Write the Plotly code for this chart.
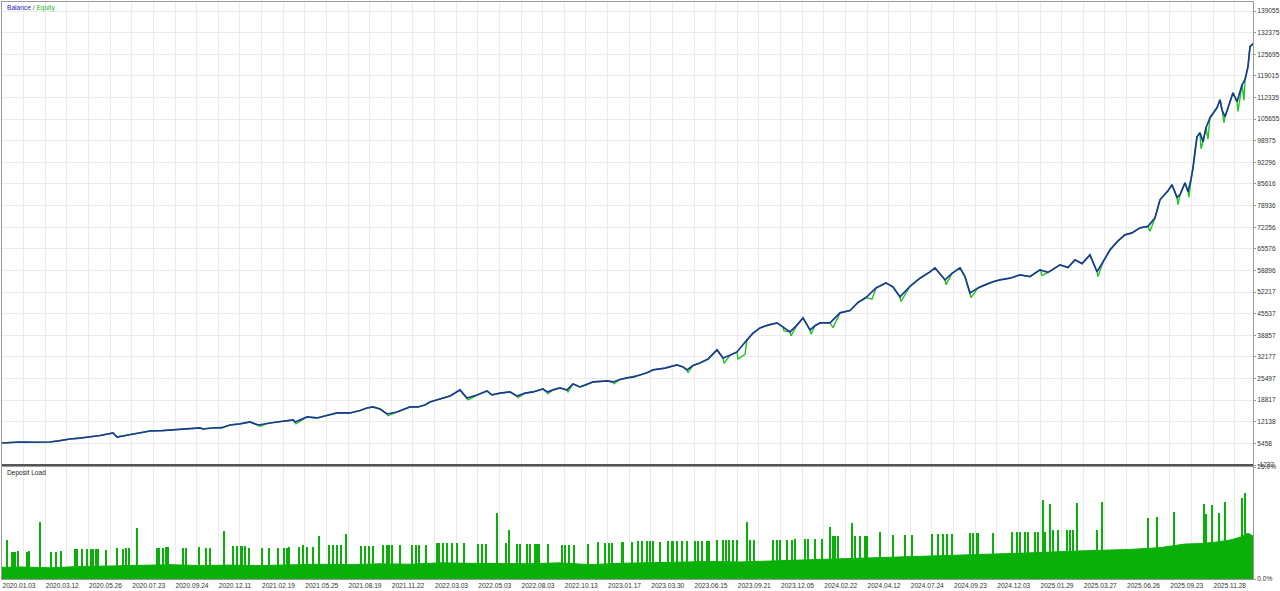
"""Balance / equity curve with deposit load panel (MT5 tester style)."""

import plotly.graph_objects as go

# ---------------------------------------------------------------------------
# Data
# ---------------------------------------------------------------------------

# deal number along the x axis and the balance at that deal
balance_x = [
    2, 12, 20, 35, 50, 60, 70, 80, 90, 100, 113, 117, 128, 140, 150, 162, 173,
    188, 200, 203, 212, 222, 230, 240, 250, 258, 268, 277, 286, 293, 295, 307,
    317, 327, 337, 350, 360, 367, 373, 380, 387, 397, 410, 418, 425, 430, 440,
    450, 460, 467, 477, 487, 492, 500, 510, 517, 525, 533, 543, 547, 553, 560,
    567, 573, 580, 586, 593, 600, 607, 613, 620, 627, 634, 640, 647, 653, 665,
    677, 683, 687, 693, 700, 708, 717, 723, 730, 737, 747, 753, 760, 768, 777,
    783, 790, 797, 803, 810, 815, 820, 830, 840, 850, 858, 866, 876, 886, 893,
    900, 910, 920, 930, 935, 945, 952, 960, 965, 970, 978, 985, 993, 1000,
    1010, 1020, 1030, 1040, 1048, 1060, 1068, 1075, 1082, 1090, 1097, 1103,
    1110, 1118, 1125, 1132, 1140, 1148, 1155, 1160, 1168, 1172, 1177, 1180,
    1185, 1188, 1191, 1193, 1195, 1197, 1200, 1203, 1206, 1210, 1217, 1220,
    1222, 1225, 1230, 1233, 1237, 1242, 1245, 1248, 1250, 1253,
]
balance_y = [
    5580, 5700, 5890, 5800, 5890, 6300, 6817, 7100, 7436, 7900, 8672, 7436,
    8050, 8672, 9291, 9400, 9600, 9900, 10218, 9909, 10218, 10300, 11146,
    11500, 12074, 11146, 11700, 12074, 12400, 12692, 12074, 13620, 13310,
    14100, 14856, 14856, 15600, 16402, 16712, 16093, 14547, 15166, 16712,
    16712, 17330, 18258, 19185, 20100, 21968, 19494, 20400, 21658, 20422,
    21000, 21350, 20113, 21000, 21350, 22277, 21350, 22000, 22586, 21968,
    23823, 22895, 23500, 24442, 24600, 24751, 24442, 25200, 25678, 26000,
    26606, 27300, 28152, 28700, 29698, 29080, 28152, 29500, 30316, 31500,
    34336, 31862, 32700, 33717, 37428, 39500, 41138, 42000, 42684, 41447,
    39901, 42000, 44230, 40520, 41800, 42684, 42684, 45776, 46500, 49000,
    50500, 53500, 55052, 53800, 50723, 54000, 56500, 58453, 59690, 55980,
    58000, 59690, 57000, 51960, 53500, 54434, 55400, 55980, 56500, 57526,
    57000, 59072, 58300, 60618, 59800, 62164, 61000, 63710, 58500, 61500,
    65256, 68000, 69894, 70500, 72058, 72500, 75150, 80716, 83500, 85354,
    81500, 82262, 85973, 83190, 87000, 90610, 96176, 100196, 101434, 98651,
    102978, 106070, 109162, 111636, 108544, 106380, 111017, 113800, 111017,
    116274, 117820, 121840, 128024, 128951,
]

# floating drawdowns where equity falls below balance
equity_dip_x = [
    260, 296, 388, 468, 518, 548, 568, 614, 688, 724, 738, 745, 784, 791, 811,
    833, 872, 901, 946, 971, 1042, 1098, 1150, 1178, 1189, 1201, 1208, 1224,
    1238, 1244,
]
equity_dip_y = [
    10700, 11500, 14000, 18900, 19600, 20800, 21400, 23900, 27300, 30200,
    31500, 33000, 40200, 38700, 39200, 41200, 50000, 49300, 54500, 50500,
    57300, 57000, 71000, 79200, 81500, 96500, 99500, 104500, 108000, 111500,
]

# deposit load, base level (%)
load_x = [
    2, 20, 50, 80, 110, 140, 170, 200, 230, 260, 290, 320, 350, 380, 410, 440,
    470, 500, 530, 560, 590, 620, 650, 680, 710, 740, 770, 800, 830, 860, 890,
    920, 950, 980, 1010, 1040, 1070, 1100, 1130, 1160, 1185, 1200, 1215, 1230,
    1240, 1248, 1253,
]
load_y = [
    2.6, 2.7, 2.5, 2.8, 2.9, 3.0, 3.2, 3.0, 3.1, 3.0, 3.2, 3.3, 3.2, 3.4, 3.3,
    3.6, 3.5, 3.5, 3.4, 3.6, 3.2, 3.5, 3.6, 3.8, 3.9, 3.8, 4.0, 4.2, 4.4, 4.6,
    4.8, 5.0, 5.3, 5.5, 5.7, 5.9, 6.2, 6.4, 6.6, 7.0, 7.8, 7.9, 8.2, 8.7, 9.3,
    10.2, 9.6,
]

# deposit load spikes (deal number, %)
spike_x = [
    7, 12, 13, 15, 18, 27, 29, 40, 51, 56, 61, 75, 77, 82, 87, 91, 93, 96, 98,
    106, 117, 123, 126, 129, 137, 157, 159, 163, 166, 168, 183, 186, 199, 206,
    210, 224, 233, 237, 241, 242, 245, 249, 262, 269, 278, 284, 287, 289, 299,
    303, 307, 313, 319, 329, 333, 337, 341, 346, 361, 365, 369, 373, 383, 387,
    389, 392, 400, 412, 416, 419, 426, 437, 439, 443, 447, 452, 457, 464, 478,
    482, 486, 497, 506, 509, 517, 520, 527, 530, 535, 537, 539, 548, 562, 565,
    569, 574, 588, 598, 605, 609, 612, 622, 623, 632, 638, 642, 647, 650, 653,
    660, 668, 672, 673, 677, 682, 687, 695, 698, 702, 707, 709, 717, 723, 726,
    729, 733, 737, 747, 750, 754, 773, 777, 780, 787, 792, 795, 805, 808, 815,
    822, 830, 833, 835, 838, 852, 855, 860, 865, 867, 880, 893, 905, 912, 932,
    938, 943, 947, 952, 970, 973, 977, 978, 993, 1012, 1017, 1020, 1025, 1028,
    1035, 1038, 1043, 1045, 1050, 1053, 1058, 1067, 1070, 1073, 1077, 1097,
    1102, 1148, 1157, 1174, 1204, 1206, 1212, 1219, 1225, 1242, 1245,
]
spike_h = [
    8.7, 6.0, 6.0, 6.0, 6.2, 6.0, 6.2, 12.7, 6.0, 6.0, 6.2, 6.8, 6.8, 6.8, 6.8,
    6.8, 6.8, 6.7, 6.7, 6.5, 6.9, 6.6, 6.9, 6.9, 11.4, 7.0, 7.0, 7.0, 7.1, 7.1,
    6.9, 6.9, 7.2, 6.9, 6.9, 10.7, 7.3, 7.3, 7.3, 7.3, 7.3, 7.0, 7.0, 7.0, 7.0,
    7.0, 7.0, 7.2, 7.2, 7.5, 7.2, 7.2, 9.5, 7.5, 7.5, 7.5, 7.5, 10.0, 7.4, 7.4,
    7.4, 7.4, 7.6, 7.6, 7.6, 7.6, 7.5, 7.5, 7.6, 7.6, 7.5, 8.0, 8.0, 8.0, 8.0,
    8.0, 8.0, 8.0, 7.9, 7.9, 7.9, 14.7, 8.0, 11.0, 7.8, 7.8, 7.8, 7.8, 7.8, 7.8,
    7.8, 7.8, 7.6, 7.6, 7.6, 7.6, 7.9, 8.2, 8.0, 8.0, 8.0, 8.2, 8.2, 8.2, 8.5,
    8.4, 8.4, 8.4, 8.4, 8.3, 8.5, 8.5, 8.5, 8.5, 8.5, 8.4, 8.5, 8.5, 8.5, 8.5,
    8.5, 8.8, 8.8, 8.8, 8.8, 8.8, 8.8, 12.7, 8.8, 8.8, 8.8, 8.8, 8.8, 8.8, 8.8,
    9.0, 9.0, 9.0, 9.0, 9.0, 11.6, 9.5, 9.5, 9.5, 12.5, 9.5, 9.5, 9.5, 9.5,
    10.5, 9.8, 9.8, 9.8, 10.0, 10.0, 10.0, 10.0, 10.0, 10.2, 10.2, 10.2, 10.2,
    10.3, 10.5, 10.5, 10.5, 10.5, 10.5, 10.5, 10.5, 17.6, 10.5, 16.8, 11.0,
    11.0, 11.0, 11.0, 11.0, 17.0, 11.0, 17.2, 13.6, 13.8, 15.0, 16.7, 14.5,
    16.5, 14.8, 17.2, 18.0, 19.2,
]

# axis labels
date_labels = [
    "2020.01.03", "2020.03.12", "2020.05.26", "2020.07.23", "2020.09.24",
    "2020.12.11", "2021.02.19", "2021.05.25", "2021.08.19", "2021.11.22",
    "2022.03.03", "2022.05.03", "2022.08.03", "2022.10.13", "2023.01.17",
    "2023.03.30", "2023.06.15", "2023.09.21", "2023.12.05", "2024.02.22",
    "2024.04.12", "2024.07.24", "2024.09.23", "2024.12.03", "2025.01.29",
    "2025.03.27", "2025.06.26", "2025.09.23", "2025.11.28",
]
balance_ticks = [
    -1222, 5458, 12138, 18817, 25497, 32177, 38857, 45537, 52217, 58896,
    65576, 72256, 78936, 85616, 92296, 98975, 105655, 112335, 119015, 125695,
    132375, 139055,
]

# ---------------------------------------------------------------------------
# Figure
# ---------------------------------------------------------------------------

FONT = "Liberation Sans, Arial, sans-serif"
GRID = "#ebebeb"
BORDER = "#9a9a9a"
BAL_COLOUR = "#1b3a96"
EQ_COLOUR = "#22c422"
LOAD_COLOUR = "#0aaf0a"

X0, X1 = 2, 1253
LABEL_STEP = 43.25
grid_vals = []
grid_text = []
k = 0
while X0 + k * LABEL_STEP / 2 <= X1:
    grid_vals.append(X0 + k * LABEL_STEP / 2)
    grid_text.append(date_labels[k // 2] if k % 2 == 0 else "")
    k += 1

# equity follows balance, with the dips merged in
eq_pts = sorted(zip(balance_x + equity_dip_x, balance_y + equity_dip_y))
equity_x = [p[0] for p in eq_pts]
equity_y = [p[1] for p in eq_pts]

fig = go.Figure()

fig.add_trace(go.Scatter(
    x=equity_x, y=equity_y, mode="lines",
    line=dict(color=EQ_COLOUR, width=1.4), xaxis="x2", yaxis="y2",
    hoverinfo="skip",
))
fig.add_trace(go.Scatter(
    x=balance_x, y=balance_y, mode="lines",
    line=dict(color=BAL_COLOUR, width=1.7), xaxis="x2", yaxis="y2",
))

fig.add_trace(go.Scatter(
    x=load_x, y=load_y, mode="lines", fill="tozeroy",
    line=dict(color=LOAD_COLOUR, width=1), fillcolor=LOAD_COLOUR,
))
fig.add_trace(go.Bar(
    x=spike_x, y=spike_h, width=0.7,
    marker=dict(color=LOAD_COLOUR, line=dict(width=0)),
))

split_bottom = (591 - 12 - 465) / (591 - 2 - 12)
split_top = (591 - 12 - 467) / (591 - 2 - 12)

fig.update_layout(
    width=1280, height=591,
    margin=dict(l=2, r=27, t=2, b=12, autoexpand=False),
    paper_bgcolor="white", plot_bgcolor="white",
    showlegend=False, bargap=0,
    font=dict(family=FONT, size=7, color="#333333"),
    xaxis=dict(
        domain=[0, 1], range=[X0, X1], anchor="y", automargin=False,
        tickmode="array", tickvals=grid_vals, ticktext=grid_text,
        ticklabelposition="outside right", ticks="", tickangle=0,
        tickfont=dict(size=6.6),
        showgrid=True, gridcolor=GRID, gridwidth=1,
        showline=True, mirror=True, linecolor=BORDER, linewidth=1,
        zeroline=False,
    ),
    yaxis=dict(
        domain=[0, split_top], range=[0, 25], side="right", automargin=False,
        tickmode="array", tickvals=[0, 25], ticktext=["0.0%", "25.0%"],
        ticks="outside", ticklen=2, tickcolor=BORDER,
        tickfont=dict(size=6.6),
        showgrid=False, zeroline=False,
        showline=True, mirror=True, linecolor=BORDER, linewidth=1,
    ),
    xaxis2=dict(
        domain=[0, 1], range=[X0, X1], anchor="y2", matches="x",
        automargin=False,
        tickmode="array", tickvals=grid_vals, showticklabels=False, ticks="",
        showgrid=True, gridcolor=GRID, gridwidth=1,
        showline=True, mirror=True, linecolor=BORDER, linewidth=1,
        zeroline=False,
    ),
    yaxis2=dict(
        domain=[split_bottom, 1], range=[-1222, 141836], side="right",
        automargin=False,
        tickmode="array", tickvals=balance_ticks,
        ticktext=[str(v) for v in balance_ticks],
        ticks="outside", ticklen=2, tickcolor=BORDER,
        tickfont=dict(size=6.6),
        showgrid=True, gridcolor=GRID, gridwidth=1, zeroline=False,
        showline=True, mirror=True, linecolor=BORDER, linewidth=1,
    ),
    annotations=[
        dict(
            xref="paper", yref="paper", x=0.002, y=1, xanchor="left",
            yanchor="top", showarrow=False,
            text=("<span style='color:#2424b8'>Balance</span> "
                  "<span style='color:#555555'>/</span> "
                  "<span style='color:#22b522'>Equity</span>"),
            font=dict(size=6.6),
        ),
        dict(
            xref="paper", yref="paper", x=0.002, y=split_top, xanchor="left",
            yanchor="top", showarrow=False, text="Deposit Load",
            font=dict(size=6.6, color="#222222"),
        ),
    ],
    shapes=[
        dict(type="line", xref="paper", yref="paper", x0=0, x1=1,
             y0=split_bottom, y1=split_bottom,
             line=dict(color="#555555", width=2)),
    ],
)

# drop the browser's default body margin so the figure fills the window
fig.write_html(
    "out.html",
    config={"displayModeBar": False},
    post_script="document.body.style.margin='0';"
                "document.body.style.overflow='hidden';",
)
